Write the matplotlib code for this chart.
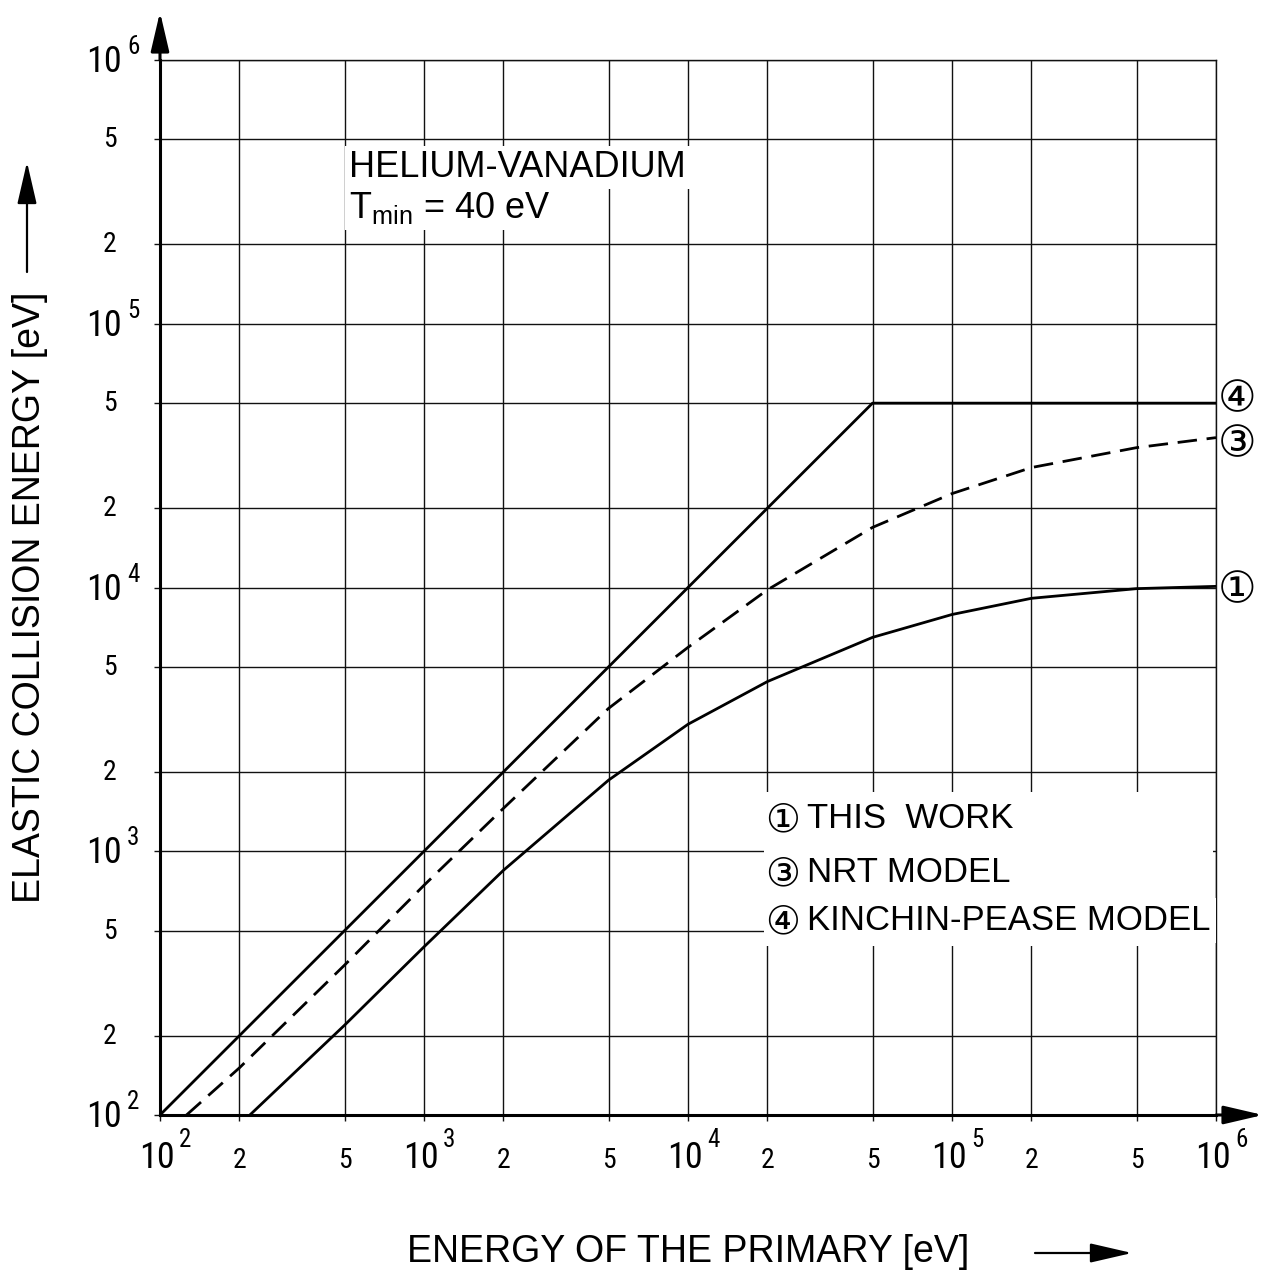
import matplotlib
matplotlib.use("Agg")
import matplotlib.pyplot as plt
from matplotlib import font_manager as fm
from matplotlib.ticker import NullLocator
from matplotlib.patches import Rectangle

# ---------------- data ----------------
x_ticks = [1e2, 2e2, 5e2, 1e3, 2e3, 5e3, 1e4, 2e4, 5e4, 1e5, 2e5, 5e5, 1e6]
x_tick_labels = ['10^2', '2', '5', '10^3', '2', '5', '10^4', '2', '5', '10^5', '2', '5', '10^6']
y_ticks = [1e2, 2e2, 5e2, 1e3, 2e3, 5e3, 1e4, 2e4, 5e4, 1e5, 2e5, 5e5, 1e6]
y_tick_labels = ['10^2', '2', '5', '10^3', '2', '5', '10^4', '2', '5', '10^5', '2', '5', '10^6']

# (1) THIS WORK
this_work_x = [219, 500, 1e3, 2e3, 5e3, 1e4, 2e4, 5e4, 1e5, 2e5, 5e5, 1e6]
this_work_y = [100, 219, 434, 847, 1860, 3030, 4400, 6470, 7900, 9100, 9900, 10100]
# (3) NRT MODEL
nrt_x = [126, 200, 500, 1e3, 2e3, 5e3, 1e4, 2e4, 5e4, 1e5, 2e5, 5e5, 1e6]
nrt_y = [100, 151, 370, 743, 1455, 3480, 5930, 9800, 16900, 22700, 28500, 33900, 37000]
# (4) KINCHIN-PEASE MODEL
kp_x = [100, 5e4, 1e6]
kp_y = [100, 5e4, 5e4]

legend_marks = ['\u2460', '\u2462', '\u2463']
legend_texts = ['THIS  WORK', 'NRT MODEL', 'KINCHIN-PEASE MODEL']
end_marks = ['\u2460', '\u2462', '\u2463']
title_lines = ['HELIUM-VANADIUM', r'$\mathregular{T_{min}}$ = 40 eV']
xlabel = 'ENERGY OF THE PRIMARY [eV]'
ylabel = 'ELASTIC COLLISION ENERGY [eV]'

# ---------------- fonts ----------------
names = {f.name for f in fm.fontManager.ttflist}
def pick(cands):
    for c in cands:
        if c in names:
            return c
    return 'DejaVu Sans'
narrow = pick(['Liberation Sans Narrow', 'Roboto Condensed', 'Liberation Sans'])
regular = pick(['Liberation Sans', 'Arial', 'DejaVu Sans'])
fam_text = [regular, 'DejaVu Sans', 'Noto Sans CJK SC']
fam_tick = [narrow, 'DejaVu Sans']
sym_fam = ['DejaVu Sans', 'Noto Sans CJK SC']
plt.rcParams['font.family'] = fam_text
plt.rcParams['mathtext.fontset'] = 'custom'
plt.rcParams['mathtext.rm'] = regular

W, H = 1265, 1273
fig = plt.figure(figsize=(W / 100, H / 100), dpi=100)
x0, x1p, ytop, ybot = 160, 1216, 60, 1115
ax = fig.add_axes([x0 / W, (H - ybot) / H, (x1p - x0) / W, (ybot - ytop) / H])
ax.set_xscale('log')
ax.set_yscale('log')
ax.set_xlim(1e2, 1e6)
ax.set_ylim(1e2, 1e6)
ax.set_xticks(x_ticks)
ax.set_yticks(y_ticks)
ax.set_xticklabels([])
ax.set_yticklabels([])
ax.xaxis.set_minor_locator(NullLocator())
ax.yaxis.set_minor_locator(NullLocator())
ax.tick_params(length=4.5, width=1.0, direction='out', color='#111111')
ax.grid(True, color='#111111', lw=1.0)
ax.set_axisbelow(True)
for s in ['top', 'right']:
    ax.spines[s].set_linewidth(1.0)
    ax.spines[s].set_color('#111111')
for s in ['left', 'bottom']:
    ax.spines[s].set_linewidth(2.2)
    ax.spines[s].set_color('black')

# curves
ax.plot(this_work_x, this_work_y, color='black', lw=2.0, zorder=3)
ax.plot(nrt_x, nrt_y, color='black', lw=2.0, ls='--', dashes=(7, 3.5), zorder=3)
ax.plot(kp_x, kp_y, color='black', lw=2.0, zorder=3)

# tick labels
for v, lab in zip(x_ticks, x_tick_labels):
    if '^' in lab:
        b, e = lab.split('^')
        ax.annotate(b, xy=(v, 0), xycoords=('data', 'axes fraction'), xytext=(-3, -53),
                    textcoords='offset pixels', ha='center', va='baseline', fontsize=26, family=fam_tick)
        ax.annotate(e, xy=(v, 0), xycoords=('data', 'axes fraction'), xytext=(19, -32),
                    textcoords='offset pixels', ha='left', va='baseline', fontsize=18, family=fam_tick)
    else:
        ax.annotate(lab, xy=(v, 0), xycoords=('data', 'axes fraction'), xytext=(0, -53),
                    textcoords='offset pixels', ha='center', va='baseline', fontsize=20, family=fam_tick)
for v, lab in zip(y_ticks, y_tick_labels):
    if '^' in lab:
        b, e = lab.split('^')
        ax.annotate(b, xy=(0, v), xycoords=('axes fraction', 'data'), xytext=(-56, -12),
                    textcoords='offset pixels', ha='center', va='baseline', fontsize=26, family=fam_tick)
        ax.annotate(e, xy=(0, v), xycoords=('axes fraction', 'data'), xytext=(-33, 6),
                    textcoords='offset pixels', ha='left', va='baseline', fontsize=18, family=fam_tick)
    else:
        ax.annotate(lab, xy=(0, v), xycoords=('axes fraction', 'data'), xytext=(-50, -8),
                    textcoords='offset pixels', ha='center', va='baseline', fontsize=20, family=fam_tick)

# axis arrows
arrow_kw = dict(arrowstyle='-|>,head_length=1.2,head_width=0.28', color='black', lw=2.2,
                shrinkA=0, shrinkB=0, mutation_scale=20)
ax.annotate('', xy=(x0, H - 12), xytext=(x0, H - ytop), xycoords='figure pixels',
            arrowprops=arrow_kw, annotation_clip=False)
ax.annotate('', xy=(1263, H - ybot), xytext=(x1p, H - ybot), xycoords='figure pixels',
            arrowprops=arrow_kw, annotation_clip=False)

def axfrac(px, py):
    return (px - x0) / (x1p - x0), (ybot - py) / (ybot - ytop)

# title block
bb = dict(facecolor='white', edgecolor='none', pad=3)
ax.text(*axfrac(349, 177), title_lines[0], transform=ax.transAxes, ha='left', va='baseline',
        fontsize=26, bbox=bb, zorder=5)
ax.text(*axfrac(349, 218), title_lines[1], transform=ax.transAxes, ha='left', va='baseline',
        fontsize=26, bbox=bb, zorder=5)

# legend block (white background hides the grid)
lx0, ly0 = axfrac(764, 946)
lx1, ly1 = axfrac(1213, 792)
ax.add_patch(Rectangle((lx0, ly0), lx1 - lx0, ly1 - ly0, transform=ax.transAxes,
                       facecolor='white', edgecolor='none', zorder=4))
leg_base = [828, 882, 930]
for mk, txt, b in zip(legend_marks, legend_texts, leg_base):
    ax.text(*axfrac(807, b), txt, transform=ax.transAxes, ha='left', va='baseline', fontsize=25,
            bbox=dict(facecolor='white', edgecolor='none', pad=4), zorder=5, clip_on=False)
    ax.text(*axfrac(783, b - 12), mk, transform=ax.transAxes, ha='center', va='center_baseline',
            fontsize=28, family=sym_fam, zorder=6, clip_on=False)

# end markers of curves
for mark, yv, dy in zip(end_marks, [this_work_y[-1], nrt_y[-1], kp_y[-1]], [1, -2, 8]):
    ax.annotate(mark, xy=(1e6, yv), xycoords='data', xytext=(21, dy), textcoords='offset pixels',
                ha='center', va='center_baseline', fontsize=31, family=sym_fam, annotation_clip=False)

# axis labels
fig.text(30 / W, 1 - 597 / H, ylabel, rotation=90, ha='center', va='center', fontsize=27)
fig.text(688 / W, 1 - 1262 / H, xlabel, ha='center', va='baseline', fontsize=27)
small_arrow = dict(arrowstyle='-|>,head_length=1.3,head_width=0.3', color='black',
                   lw=1.6, shrinkA=0, shrinkB=0, mutation_scale=20)
ax.annotate('', xy=(27, H - 162), xytext=(27, H - 272), xycoords='figure pixels',
            arrowprops=small_arrow, annotation_clip=False)
ax.annotate('', xy=(1132, H - 1253), xytext=(1035, H - 1253), xycoords='figure pixels',
            arrowprops=small_arrow, annotation_clip=False)

fig.savefig('out.png', dpi=100)
